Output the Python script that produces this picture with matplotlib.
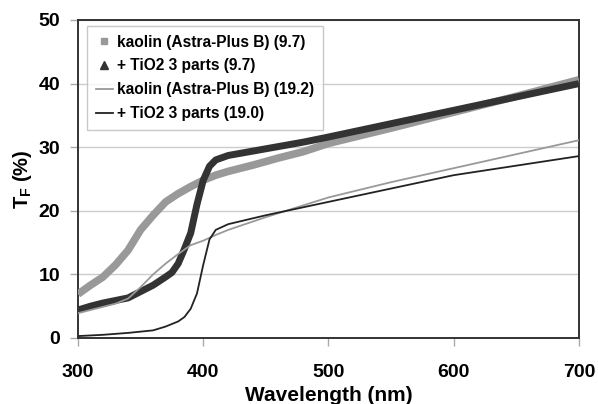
import matplotlib.pyplot as plt
from matplotlib.lines import Line2D

plt.rcParams['font.family'] = ['Liberation Sans', 'DejaVu Sans']
plt.rcParams['font.weight'] = 'bold'
plt.rcParams['mathtext.fontset'] = 'custom'
plt.rcParams['mathtext.rm'] = 'Liberation Sans:bold'
plt.rcParams['mathtext.bf'] = 'Liberation Sans:bold'

# kaolin (Astra-Plus B), 9.7 g/m2
wl_kaolin_97 = [300, 310, 320, 330, 340, 350, 360, 370, 380, 390, 400, 410,
                420, 440, 460, 480, 500, 550, 600, 650, 700]
tf_kaolin_97 = [6.9, 8.3, 9.6, 11.5, 13.8, 17.0, 19.3, 21.4, 22.7, 23.8, 24.8, 25.6,
                26.2, 27.2, 28.3, 29.3, 30.6, 33.0, 35.5, 38.0, 40.6]

# + TiO2 3 parts, 9.7 g/m2
wl_tio2_97 = [300, 310, 320, 330, 340, 350, 360, 370, 375, 380, 385, 390, 395,
              400, 405, 410, 420, 440, 460, 480, 500, 550, 600, 650, 700]
tf_tio2_97 = [4.4, 5.0, 5.5, 5.9, 6.3, 7.3, 8.3, 9.6, 10.3, 11.7, 14.0, 16.5, 21.0,
              24.8, 27.0, 28.0, 28.7, 29.4, 30.1, 30.8, 31.6, 33.7, 35.8, 37.9, 40.0]

# kaolin (Astra-Plus B), 19.2 g/m2
wl_kaolin_192 = [300, 310, 320, 330, 340, 350, 360, 370, 380, 390, 400, 410,
                 420, 450, 500, 550, 600, 650, 700]
tf_kaolin_192 = [3.9, 4.4, 4.9, 5.4, 6.2, 8.0, 10.0, 11.7, 13.2, 14.6, 15.3, 16.2,
                 17.0, 19.0, 22.1, 24.5, 26.7, 28.9, 31.1]

# + TiO2 3 parts, 19.0 g/m2
wl_tio2_190 = [300, 320, 340, 360, 370, 380, 385, 390, 395, 400, 405, 410,
               420, 450, 500, 550, 600, 650, 700]
tf_tio2_190 = [0.3, 0.5, 0.8, 1.2, 1.8, 2.6, 3.3, 4.6, 7.0, 11.5, 15.5, 17.0,
               17.9, 19.3, 21.4, 23.5, 25.6, 27.1, 28.6]

labels = ['kaolin (Astra-Plus B) (9.7)', '+ TiO2 3 parts (9.7)',
          'kaolin (Astra-Plus B) (19.2)', '+ TiO2 3 parts (19.0)']

light = '#999999'
dark = '#333333'

fig = plt.figure(figsize=(5.98, 4.04), dpi=100)
ax = fig.add_axes([0.1304, 0.1634, 0.8378, 0.7871])

ax.plot(wl_kaolin_97, tf_kaolin_97, color=light, lw=5.5, solid_capstyle='butt', zorder=3)
ax.plot(wl_tio2_97, tf_tio2_97, color=dark, lw=5, solid_capstyle='butt', zorder=4)
ax.plot(wl_kaolin_192, tf_kaolin_192, color=light, lw=1.3, zorder=5)
ax.plot(wl_tio2_190, tf_tio2_190, color='#222222', lw=1.3, zorder=6)

ax.set_xlim(300, 700)
ax.set_ylim(0, 50)
ax.set_xticks([300, 400, 500, 600, 700])
ax.set_yticks([0, 10, 20, 30, 40, 50])
ax.grid(axis='y', color='#cccccc', lw=1)
ax.set_axisbelow(True)

for s in ax.spines.values():
    s.set_color(dark)
    s.set_linewidth(1.4)
ax.tick_params(axis='both', colors='#aaaaaa', length=6, width=1, labelcolor='black',
               labelsize=14)
ax.tick_params(axis='y', pad=7)
ax.tick_params(axis='x', pad=12.5)

ax.set_xlabel('Wavelength (nm)', fontsize=15, fontweight='bold', labelpad=4)
ax.set_ylabel(r'T$_{\mathbf{F}}$ (%)', fontsize=14.5, fontweight='bold', labelpad=3)

handles = [
    Line2D([], [], ls='none', marker='s', ms=5, color=light),
    Line2D([], [], ls='none', marker='^', ms=6, color=dark),
    Line2D([], [], color=light, lw=1.3),
    Line2D([], [], color='#222222', lw=1.3),
]
leg = ax.legend(handles, labels, loc='upper left', bbox_to_anchor=(0.018, 0.981),
                fontsize=11.2, frameon=True, fancybox=False, edgecolor='#bbbbbb',
                handlelength=1.1, handletextpad=0.3, labelspacing=0.57,
                borderpad=0.55, borderaxespad=0)
leg.get_frame().set_linewidth(1)

fig.savefig('out.png', dpi=100)
